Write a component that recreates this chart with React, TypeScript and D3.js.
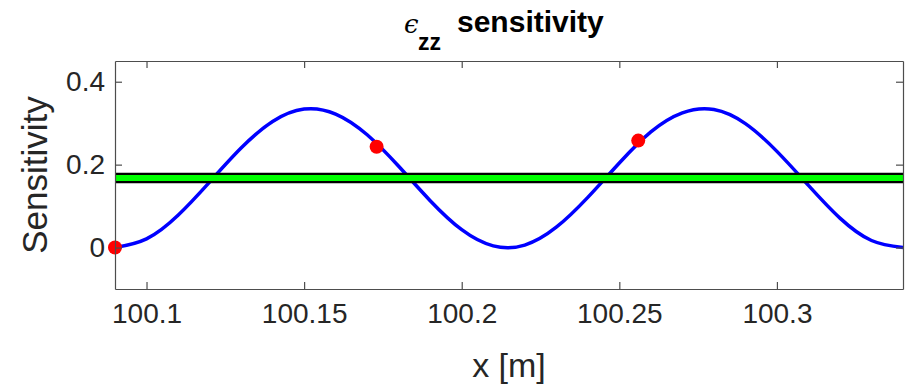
import * as d3 from 'd3';
import * as React from 'react';

const { useRef, useEffect } = React;

const width = 910;
const height = 384;
const margin = { top: 61, right: 7, bottom: 95, left: 115 };

// blue curve, every 0.01 m
const xs = [
  100.09, 100.1, 100.11, 100.12, 100.13, 100.14, 100.15, 100.16, 100.17,
  100.18, 100.19, 100.2, 100.21, 100.22, 100.23, 100.24, 100.25, 100.26,
  100.27, 100.28, 100.29, 100.3, 100.31, 100.32, 100.33, 100.34,
];
const sens = [
  0, 0.021, 0.078, 0.158, 0.24, 0.304, 0.334, 0.322, 0.272, 0.196, 0.113,
  0.043, 0.004, 0.006, 0.049, 0.121, 0.204, 0.279, 0.325, 0.333, 0.299, 0.232,
  0.15, 0.071, 0.017, 0,
];

// red markers
const pointX = [100.09, 100.173, 100.256];
const pointY = [0, 0.243, 0.258];

// horizontal level (green with black edge)
const level = 0.168;

const xTicks = [100.1, 100.15, 100.2, 100.25, 100.3];
const yTicks = [0, 0.2, 0.4];

const font = 'Liberation Sans, Arial, Helvetica, sans-serif';
const axisColor = '#4d4d4d';

export default () => {
  const rootRef = useRef<SVGSVGElement>(null);

  useEffect(() => {
    const rootEl = rootRef.current;
    if (!rootEl) {
      return;
    }

    const svg = d3.select(rootEl);
    svg.selectAll('*').remove();

    const x = d3
      .scaleLinear()
      .domain([100.09, 100.34])
      .range([margin.left, width - margin.right]);

    const y = d3
      .scaleLinear()
      .domain([-0.1, 0.45])
      .range([height - margin.bottom, margin.top]);

    svg
      .append('defs')
      .append('clipPath')
      .attr('id', 'plot-clip')
      .append('rect')
      .attr('x', margin.left)
      .attr('y', margin.top)
      .attr('width', width - margin.left - margin.right)
      .attr('height', height - margin.top - margin.bottom);

    svg
      .append('rect')
      .attr('x', margin.left)
      .attr('y', margin.top)
      .attr('width', width - margin.left - margin.right)
      .attr('height', height - margin.top - margin.bottom)
      .attr('fill', '#fff');

    const plot = svg.append('g').attr('clip-path', 'url(#plot-clip)');

    const line = d3
      .line<number>()
      .x((d, i) => x(xs[i]))
      .y(d => y(d))
      .curve(d3.curveNatural);

    plot
      .append('path')
      .attr('d', line(sens))
      .attr('fill', 'none')
      .attr('stroke', '#0000ff')
      .attr('stroke-width', 3.5);

    plot
      .append('line')
      .attr('x1', x(100.09))
      .attr('x2', x(100.34))
      .attr('y1', y(level))
      .attr('y2', y(level))
      .attr('stroke', '#000')
      .attr('stroke-width', 10.5);

    plot
      .append('line')
      .attr('x1', x(100.09))
      .attr('x2', x(100.34))
      .attr('y1', y(level))
      .attr('y2', y(level))
      .attr('stroke', '#00ff00')
      .attr('stroke-width', 6);

    svg
      .append('g')
      .selectAll('circle')
      .data(pointX)
      .join('circle')
      .attr('cx', d => x(d))
      .attr('cy', (d, i) => y(pointY[i]))
      .attr('r', 7)
      .attr('fill', '#ff0000');

    // axes box with inward ticks on all sides
    const bottomAxis = (g: d3.Selection<any, any, any, any>) =>
      g
        .attr('transform', `translate(0,${height - margin.bottom})`)
        .call(
          d3
            .axisBottom(x)
            .tickValues(xTicks)
            .tickSizeInner(-7)
            .tickSizeOuter(0)
            .tickPadding(14)
            .tickFormat(d => String(d)),
        );

    const topAxis = (g: d3.Selection<any, any, any, any>) =>
      g
        .attr('transform', `translate(0,${margin.top})`)
        .call(
          d3
            .axisTop(x)
            .tickValues(xTicks)
            .tickSizeInner(-7)
            .tickSizeOuter(0)
            .tickFormat(() => ''),
        );

    const leftAxis = (g: d3.Selection<any, any, any, any>) =>
      g
        .attr('transform', `translate(${margin.left},0)`)
        .call(
          d3
            .axisLeft(y)
            .tickValues(yTicks)
            .tickSizeInner(-7)
            .tickSizeOuter(0)
            .tickPadding(10)
            .tickFormat(d => String(d)),
        );

    const rightAxis = (g: d3.Selection<any, any, any, any>) =>
      g
        .attr('transform', `translate(${width - margin.right},0)`)
        .call(
          d3
            .axisRight(y)
            .tickValues(yTicks)
            .tickSizeInner(-7)
            .tickSizeOuter(0)
            .tickFormat(() => ''),
        );

    [bottomAxis, topAxis, leftAxis, rightAxis].forEach(axis => {
      svg
        .append('g')
        .call(axis)
        .call(g =>
          g
            .selectAll('path, line')
            .attr('stroke', axisColor)
            .attr('stroke-width', 1.2),
        )
        .call(g =>
          g
            .selectAll('text')
            .attr('fill', '#262626')
            .attr('font-family', font)
            .attr('font-size', 28),
        );
    });

    svg
      .append('text')
      .attr('x', (margin.left + width - margin.right) / 2)
      .attr('y', 377)
      .attr('text-anchor', 'middle')
      .attr('font-family', font)
      .attr('font-size', 34)
      .attr('fill', '#262626')
      .text('x [m]');

    svg
      .append('text')
      .attr('transform', `translate(47,${(margin.top + height - margin.bottom) / 2}) rotate(-90)`)
      .attr('text-anchor', 'middle')
      .attr('font-family', font)
      .attr('font-size', 35)
      .attr('fill', '#262626')
      .text('Sensitivity');

    const title = svg
      .append('text')
      .attr('x', 404)
      .attr('y', 33)
      .attr('fill', '#000');

    title
      .append('tspan')
      .attr('font-family', 'DejaVu Serif, serif')
      .attr('font-style', 'italic')
      .attr('font-size', 26)
      .text('ϵ');

    title
      .append('tspan')
      .attr('x', 418)
      .attr('y', 50)
      .attr('font-family', font)
      .attr('font-weight', 'bold')
      .attr('font-size', 23)
      .text('zz');

    title
      .append('tspan')
      .attr('x', 457)
      .attr('y', 32)
      .attr('font-family', font)
      .attr('font-weight', 'bold')
      .attr('font-size', 30)
      .text('sensitivity');
  }, []);

  return (
    <svg
      ref={rootRef}
      width={width}
      height={height}
      style={{ position: 'absolute', left: 0, top: 0, background: '#fff' }}
    />
  );
};
